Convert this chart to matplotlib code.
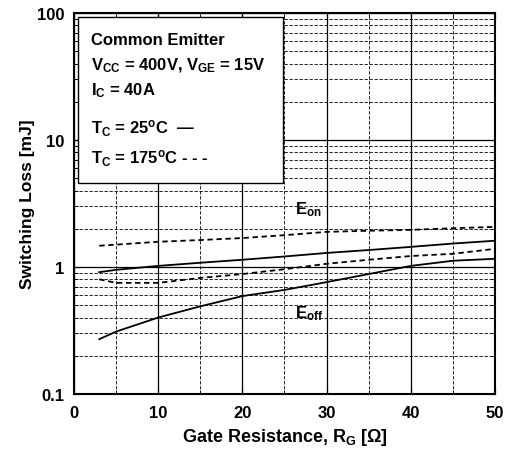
import matplotlib
matplotlib.use("Agg")
import matplotlib.pyplot as plt
import matplotlib.ticker as mticker
from matplotlib.patches import Rectangle

plt.rcParams["font.family"] = ["Liberation Sans", "DejaVu Sans"]
plt.rcParams["font.weight"] = "bold"
plt.rcParams["mathtext.fontset"] = "custom"
plt.rcParams["mathtext.rm"] = "Liberation Sans:bold"
plt.rcParams["mathtext.it"] = "Liberation Sans:bold"
plt.rcParams["mathtext.bf"] = "Liberation Sans:bold"

# gate resistance [ohm]
rg = [3, 5, 10, 15, 20, 25, 30, 35, 40, 45, 50]

# switching losses [mJ]
eon_25 = [0.91, 0.95, 1.02, 1.08, 1.14, 1.21, 1.29, 1.36, 1.44, 1.53, 1.61]
eon_175 = [1.47, 1.50, 1.58, 1.63, 1.69, 1.78, 1.89, 1.93, 1.96, 2.02, 2.07]
eoff_25 = [0.27, 0.31, 0.40, 0.49, 0.59, 0.66, 0.76, 0.88, 1.02, 1.12, 1.16]
eoff_175 = [0.80, 0.75, 0.75, 0.82, 0.88, 0.96, 1.06, 1.14, 1.22, 1.27, 1.39]

fig = plt.figure(figsize=(5.11, 4.56), dpi=100)
ax = fig.add_axes([0.1448, 0.1338, 0.8239, 0.8355])

ax.plot(rg, eon_25, color="black", lw=1.3, ls="-")
ax.plot(rg, eoff_25, color="black", lw=1.3, ls="-")
ax.plot(rg, eon_175, color="black", lw=1.3, ls=(0, (3, 2)))
ax.plot(rg, eoff_175, color="black", lw=1.3, ls=(0, (3, 2)))

ax.set_yscale("log")
ax.set_xlim(0, 50)
ax.set_ylim(0.1, 100)
ax.set_xticks([0, 10, 20, 30, 40, 50])
ax.xaxis.set_minor_locator(mticker.MultipleLocator(5))
ax.yaxis.set_major_formatter(mticker.FuncFormatter(lambda v, p: f"{v:g}"))
ax.yaxis.set_minor_formatter(mticker.NullFormatter())

ax.grid(which="major", color="black", lw=0.9, ls="-")
ax.grid(which="minor", color="black", lw=0.6, ls=(0, (4, 2)))
ax.tick_params(which="both", direction="in", top=True, right=True, labelsize=12)
ax.tick_params(which="major", length=5)
ax.tick_params(which="minor", length=3)
ax.tick_params(axis="x", pad=8)
ax.tick_params(axis="y", pad=7)
for s in ax.spines.values():
    s.set_linewidth(1.5)

ax.set_xlabel("Gate Resistance, R$_G$ [\u03a9]", fontsize=13, fontweight="bold", labelpad=4)
ax.set_ylabel("Switching Loss [mJ]", fontsize=12.5, fontweight="bold", labelpad=1)

ax.text(27.8, 2.9, "E$_{on}$", fontsize=12, ha="center", va="center")
ax.text(27.9, 0.44, "E$_{off}$", fontsize=12, ha="center", va="center")

box = Rectangle((0.0095, 0.554), 0.487, 0.4355, transform=ax.transAxes,
                facecolor="white", edgecolor="black", lw=1.0, zorder=5)
ax.add_patch(box)
lines = [
    ("Common Emitter", 0.93),
    ("V$_{CC}$ = 400V, V$_{GE}$ = 15V", 0.865),
    ("I$_C$ = 40A", 0.800),
    ("T$_C$ = 25$^o$C  \u2014", 0.700),
    ("T$_C$ = 175$^o$C - - -", 0.620),
]
for txt, yy in lines:
    ax.text(0.04, yy, txt, transform=ax.transAxes, fontsize=12,
            ha="left", va="center", zorder=6)

fig.savefig("out.png", dpi=100)
